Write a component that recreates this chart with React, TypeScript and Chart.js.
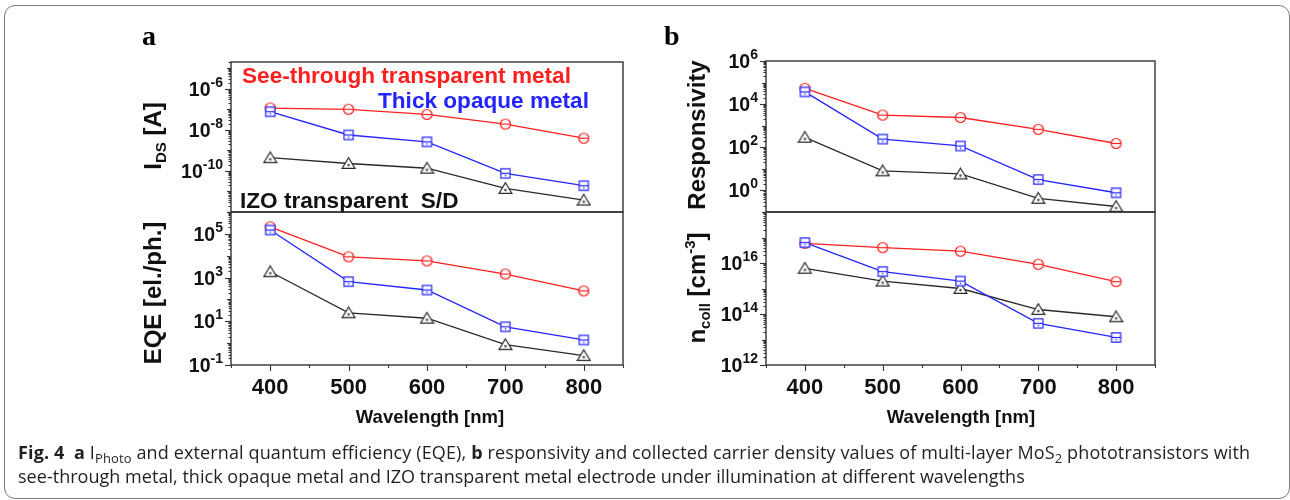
import React, { useEffect, useRef } from 'react';
import { Chart, registerables } from 'chart.js';

Chart.register(...registerables);

// ---------- data ----------
const wavelengths = [400, 500, 600, 700, 800];

const idsSeeThrough = [1.15e-7, 1.0e-7, 5.6e-8, 1.9e-8, 3.9e-9];
const idsOpaque = [7.6e-8, 5.6e-9, 2.6e-9, 7.6e-11, 1.9e-11];
const idsIZO = [4.4e-10, 2.3e-10, 1.35e-10, 1.4e-11, 3.8e-12];

const eqeSeeThrough = [2.1e5, 8.9e3, 5.8e3, 1.45e3, 245];
const eqeOpaque = [1.5e5, 650, 270, 5.6, 1.4];
const eqeIZO = [1.85e3, 24.5, 13.8, 0.85, 0.27];

const respSeeThrough = [5.4e4, 3.1e3, 2.4e3, 680, 150];
const respOpaque = [3.7e4, 240, 115, 3.2, 0.78];
const respIZO = [290, 8.1, 5.8, 0.43, 0.18];

const ncollSeeThrough = [5.9e16, 4.0e16, 2.9e16, 8.9e15, 1.85e15];
const ncollOpaque = [6.3e16, 4.6e15, 1.95e15, 4.3e13, 1.2e13];
const ncollIZO = [6.2e15, 1.95e15, 1.0e15, 1.5e14, 7.8e13];

const xTickLabels = [400, 500, 600, 700, 800];
const xMinorTicks = [350, 450, 550, 650, 750, 850];
const idsTickExps = [-6, -8, -10];
const eqeTickExps = [5, 3, 1, -1];
const respTickExps = [6, 4, 2, 0];
const ncollTickExps = [16, 14, 12];

const legendTexts = ['See-through transparent metal', 'Thick opaque metal', 'IZO transparent  S/D'];

// ---------- styles ----------
const RED = '#ff1f1f';
const BLUE = '#2424ff';
const BLACK = '#2a2a2a';
const AXIS = '#333333';
const FONT = '"Liberation Sans", Arial, sans-serif';
const SERIF = '"Liberation Serif", "Times New Roman", serif';
const W = 1290;
const H = 500;

type Part = { t: string; size: number; dy: number };

type Sub = {
  box: { l: number; t: number; r: number; b: number };
  yMin: number;
  yMax: number;
  see: number[];
  opaque: number[];
  izo: number[];
  tickExps: number[];
  title: Part[];
  titleX: number;
  titleY: number;
  bottom: boolean;
  xTitleX?: number;
  letter?: { t: string; x: number; y: number };
  notes?: { t: string; color: string; x: number; y: number }[];
};

const SUBS: Sub[] = [
  {
    box: { l: 231, t: 62, r: 623, b: 212 },
    yMin: 1e-12,
    yMax: 2e-5,
    see: idsSeeThrough,
    opaque: idsOpaque,
    izo: idsIZO,
    tickExps: idsTickExps,
    title: [
      { t: 'I', size: 24, dy: 0 },
      { t: 'DS', size: 15, dy: 5 },
      { t: ' [A]', size: 24, dy: 0 },
    ],
    titleX: 152,
    titleY: 136,
    bottom: false,
    letter: { t: 'a', x: 142, y: 45 },
    notes: [
      { t: legendTexts[0], color: RED, x: 242, y: 75 },
      { t: legendTexts[1], color: BLUE, x: 378, y: 100 },
      { t: legendTexts[2], color: '#111111', x: 240, y: 200 },
    ],
  },
  {
    box: { l: 231, t: 212, r: 623, b: 365 },
    yMin: 1e-1,
    yMax: 1e6,
    see: eqeSeeThrough,
    opaque: eqeOpaque,
    izo: eqeIZO,
    tickExps: eqeTickExps,
    title: [{ t: 'EQE [el./ph.]', size: 24, dy: 0 }],
    titleX: 152,
    titleY: 293,
    bottom: true,
    xTitleX: 430,
  },
  {
    box: { l: 766, t: 61, r: 1155, b: 212 },
    yMin: 1e-1,
    yMax: 1e6,
    see: respSeeThrough,
    opaque: respOpaque,
    izo: respIZO,
    tickExps: respTickExps,
    title: [{ t: 'Responsivity', size: 24, dy: 0 }],
    titleX: 696,
    titleY: 135,
    bottom: false,
    letter: { t: 'b', x: 664, y: 45 },
  },
  {
    box: { l: 766, t: 212, r: 1155, b: 365 },
    yMin: 1e12,
    yMax: 1e18,
    see: ncollSeeThrough,
    opaque: ncollOpaque,
    izo: ncollIZO,
    tickExps: ncollTickExps,
    title: [
      { t: 'n', size: 24, dy: 0 },
      { t: 'coll', size: 15, dy: 5 },
      { t: ' [cm', size: 24, dy: 0 },
      { t: '-3', size: 15, dy: -10 },
      { t: ']', size: 24, dy: 0 },
    ],
    titleX: 696,
    titleY: 288,
    bottom: true,
    xTitleX: 961,
  },
];

function makeMarker(kind: 'circle' | 'square' | 'triangle', color: string) {
  const c = document.createElement('canvas');
  const s = kind === 'triangle' ? 15 : 13;
  c.width = s;
  c.height = s;
  const g = c.getContext('2d')!;
  g.lineWidth = 1.2;
  g.strokeStyle = color;
  g.fillStyle = '#ffffff';
  const m = s / 2;
  if (kind === 'circle') {
    g.beginPath();
    g.arc(m, m, 5, 0, Math.PI * 2);
    g.fill();
    g.stroke();
    g.beginPath();
    g.moveTo(m - 5, m);
    g.lineTo(m + 5, m);
    g.stroke();
  } else if (kind === 'square') {
    g.beginPath();
    g.rect(m - 4.6, m - 4.6, 9.2, 9.2);
    g.fill();
    g.stroke();
    g.beginPath();
    g.moveTo(m - 4.6, m);
    g.lineTo(m + 4.6, m);
    g.stroke();
    g.fillStyle = color;
    g.fillRect(m - 0.6, m + 1.5, 1.3, 1.3);
  } else {
    g.beginPath();
    g.moveTo(m, m - 5.8);
    g.lineTo(m + 6.5, m + 4.9);
    g.lineTo(m - 6.5, m + 4.9);
    g.closePath();
    g.fill();
    g.stroke();
    g.fillStyle = '#555555';
    g.beginPath();
    g.arc(m, m + 1.6, 1.3, 0, Math.PI * 2);
    g.fill();
  }
  return c;
}

function drawParts(ctx: CanvasRenderingContext2D, parts: Part[], x: number, y: number, align: 'left' | 'right' | 'center') {
  let w = 0;
  parts.forEach((p) => {
    ctx.font = `bold ${p.size}px ${FONT}`;
    w += ctx.measureText(p.t).width;
  });
  let cx = align === 'left' ? x : align === 'right' ? x - w : x - w / 2;
  ctx.textAlign = 'left';
  ctx.textBaseline = 'alphabetic';
  parts.forEach((p) => {
    ctx.font = `bold ${p.size}px ${FONT}`;
    ctx.fillText(p.t, cx, y + p.dy);
    cx += ctx.measureText(p.t).width;
  });
}

function makePlugin(sub: Sub) {
  return {
    id: 'subplotDecor',
    afterDraw(chart: any) {
      const ctx: CanvasRenderingContext2D = chart.ctx;
      const { left, right, top, bottom } = chart.chartArea;
      const ys = chart.scales.y;
      const xs = chart.scales.x;
      ctx.save();
      // frame
      ctx.strokeStyle = AXIS;
      ctx.lineWidth = 1.4;
      ctx.strokeRect(left, top, right - left, bottom - top);

      // y ticks
      ctx.lineWidth = 1.1;
      const lo = Math.floor(Math.log10(sub.yMin));
      const hi = Math.ceil(Math.log10(sub.yMax));
      for (let e = lo; e <= hi; e++) {
        for (let m = 1; m <= 9; m++) {
          const v = m * Math.pow(10, e);
          if (v < sub.yMin * 0.999 || v > sub.yMax * 1.001) continue;
          const y = Math.round(ys.getPixelForValue(v)) + 0.5;
          const len = m === 1 ? (sub.tickExps.includes(e) ? 6 : 4) : 2.5;
          ctx.beginPath();
          ctx.moveTo(left - len, y);
          ctx.lineTo(left, y);
          ctx.stroke();
        }
      }
      // y tick labels
      ctx.fillStyle = '#111111';
      sub.tickExps.forEach((e) => {
        const y = ys.getPixelForValue(Math.pow(10, e));
        drawParts(
          ctx,
          [
            { t: '10', size: 19.5, dy: 0 },
            { t: String(e), size: 14, dy: -9 },
          ],
          left - 8,
          y + 7,
          'right'
        );
      });

      // y title
      ctx.save();
      ctx.translate(sub.titleX, sub.titleY);
      ctx.rotate(-Math.PI / 2);
      drawParts(ctx, sub.title, 0, 8.5, 'center');
      ctx.restore();

      if (sub.bottom) {
        // x ticks
        ctx.lineWidth = 1.1;
        xTickLabels.forEach((v) => {
          const x = Math.round(xs.getPixelForValue(v)) + 0.5;
          ctx.beginPath();
          ctx.moveTo(x, bottom);
          ctx.lineTo(x, bottom + 6);
          ctx.stroke();
        });
        xMinorTicks.forEach((v) => {
          const x = Math.round(xs.getPixelForValue(v)) + 0.5;
          ctx.beginPath();
          ctx.moveTo(x, bottom);
          ctx.lineTo(x, bottom + 3);
          ctx.stroke();
        });
        ctx.font = `bold 22px ${FONT}`;
        ctx.textAlign = 'center';
        ctx.textBaseline = 'alphabetic';
        xTickLabels.forEach((v) => {
          ctx.fillText(String(v), xs.getPixelForValue(v), bottom + 29);
        });
        ctx.font = `bold 18.5px ${FONT}`;
        ctx.fillText('Wavelength [nm]', sub.xTitleX || 0, 423);
      }

      if (sub.notes) {
        ctx.font = `bold 22.6px ${FONT}`;
        ctx.textAlign = 'left';
        ctx.textBaseline = 'alphabetic';
        sub.notes.forEach((n) => {
          ctx.fillStyle = n.color;
          ctx.fillText(n.t, n.x, n.y + 8);
        });
      }
      if (sub.letter) {
        ctx.fillStyle = '#000000';
        ctx.font = `bold 28px ${SERIF}`;
        ctx.textAlign = 'left';
        ctx.textBaseline = 'alphabetic';
        ctx.fillText(sub.letter.t, sub.letter.x, sub.letter.y);
      }
      ctx.restore();
    },
  };
}

function makeChart(canvas: HTMLCanvasElement, sub: Sub) {
  const mk = (vals: number[], color: string, kind: 'circle' | 'square' | 'triangle') => ({
    data: wavelengths.map((x, i) => ({ x, y: vals[i] })),
    borderColor: color,
    backgroundColor: color,
    borderWidth: 1.3,
    pointStyle: makeMarker(kind, color),
    pointRadius: 5,
    tension: 0,
    fill: false,
    clip: false as any,
  });
  return new Chart(canvas, {
    type: 'line',
    data: {
      datasets: [
        mk(sub.opaque, BLUE, 'square'),
        mk(sub.see, RED, 'circle'),
        mk(sub.izo, BLACK, 'triangle'),
      ] as any,
    },
    options: {
      responsive: false,
      animation: false,
      events: [],
      layout: {
        padding: { left: sub.box.l, top: sub.box.t, right: W - sub.box.r, bottom: H - sub.box.b },
      },
      scales: {
        x: { type: 'linear', min: 350, max: 850, display: false },
        y: { type: 'logarithmic', min: sub.yMin, max: sub.yMax, display: false },
      },
      plugins: { legend: { display: false }, tooltip: { enabled: false }, title: { display: false } },
    },
    plugins: [makePlugin(sub)],
  });
}

export default function App() {
  const r0 = useRef<HTMLCanvasElement>(null);
  const r1 = useRef<HTMLCanvasElement>(null);
  const r2 = useRef<HTMLCanvasElement>(null);
  const r3 = useRef<HTMLCanvasElement>(null);
  const refs = [r0, r1, r2, r3];

  useEffect(() => {
    const charts = SUBS.map((s, i) => makeChart(refs[i].current!, s));
    return () => charts.forEach((c) => c.destroy());
  }, []);

  const sub = { fontSize: '0.72em', verticalAlign: '-0.28em', lineHeight: 0 } as React.CSSProperties;

  return (
    <div style={{ position: 'fixed', left: 0, top: 0, width: W, height: H, background: '#ffffff', overflow: 'hidden' }}>
      <div
        style={{
          position: 'absolute',
          left: 4,
          top: 5,
          width: 1286,
          height: 494,
          border: '1.5px solid #7a7a7a',
          borderRadius: 11,
          boxSizing: 'border-box',
        }}
      />
      {refs.map((r, i) => (
        <canvas key={i} ref={r} width={W} height={H} style={{ position: 'absolute', left: 0, top: 0, width: W, height: H }} />
      ))}
      <div
        style={{
          position: 'absolute',
          left: 18,
          top: 440,
          fontFamily: '"Open Sans", "Noto Sans", sans-serif',
          fontSize: 18,
          lineHeight: '24px',
          color: '#231f20',
          whiteSpace: 'nowrap',
        }}
      >
        <div style={{ letterSpacing: '0.13px' }}>
          <b>Fig. 4</b>&nbsp; <b>a</b> I<span style={sub}>Photo</span> and external quantum efficiency (EQE), <b>b</b> responsivity and
          collected carrier density values of multi-layer MoS<span style={sub}>2</span> phototransistors with
        </div>
        <div style={{ letterSpacing: '0.03px' }}>
          see-through metal, thick opaque metal and IZO transparent metal electrode under illumination at different wavelengths
        </div>
      </div>
    </div>
  );
}
